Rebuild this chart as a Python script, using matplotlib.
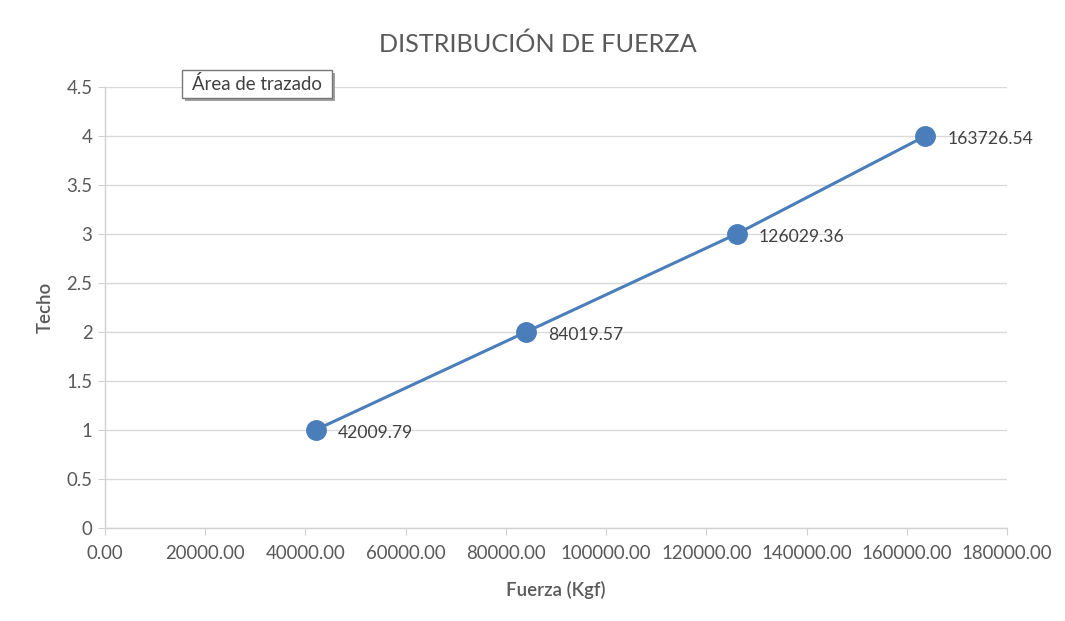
import matplotlib
matplotlib.use("Agg")
import matplotlib.pyplot as plt
from matplotlib.ticker import FormatStrFormatter, MultipleLocator
from matplotlib.patches import FancyBboxPatch

# data
fuerza = [42009.79, 84019.57, 126029.36, 163726.54]
techo = [1, 2, 3, 4]
labels = ["42009.79", "84019.57", "126029.36", "163726.54"]

plt.rcParams['font.family'] = ['Lato', 'DejaVu Sans']

grey = "#595959"
blue = "#4A7EBB"

fig = plt.figure(figsize=(10.65, 6.21), dpi=100)
ax = fig.add_axes([0.0986, 0.1498, 0.8469, 0.7101])

ax.plot(fuerza, techo, color=blue, lw=2.2, marker="o", ms=14,
        markerfacecolor=blue, markeredgecolor=blue, zorder=3)
for x, y, t in zip(fuerza, techo, labels):
    ax.annotate(t, (x, y), xytext=(16, -2), textcoords="offset points",
                va="center", ha="left", fontsize=12.6, color="#404040")

ax.set_xlim(0, 180000)
ax.set_ylim(0, 4.5)
ax.xaxis.set_major_locator(MultipleLocator(20000))
ax.yaxis.set_major_locator(MultipleLocator(0.5))
ax.xaxis.set_major_formatter(FormatStrFormatter("%.2f"))
ax.yaxis.set_major_formatter(plt.FuncFormatter(lambda v, p: f"{v:g}"))

ax.grid(axis="y", color="#D9D9D9", lw=1)
ax.set_axisbelow(True)
for s in ["top", "right"]:
    ax.spines[s].set_visible(False)
for s in ["left", "bottom"]:
    ax.spines[s].set_color("#D0D0D0")
    ax.spines[s].set_linewidth(1)
ax.tick_params(axis="both", colors="#D0D0D0", labelcolor=grey, labelsize=13.4, length=5)
ax.tick_params(axis="x", pad=7)
ax.tick_params(axis="y", pad=4)

ax.set_xlabel("Fuerza (Kgf)", fontsize=13.4, color=grey, fontweight="semibold", labelpad=14)
ax.set_ylabel("Techo", fontsize=13.4, color=grey, fontweight="semibold", labelpad=9)
fig.text(0.505, 0.928, "DISTRIBUCIÓN DE FUERZA", ha="center", va="center",
         fontsize=18.2, color=grey)

# tooltip box "Área de trazado"
shadow = FancyBboxPatch((0.1737, 0.838), 0.1408, 0.045, boxstyle="square,pad=0",
                        transform=fig.transFigure, facecolor="#A0A0A0",
                        edgecolor="none", zorder=4)
box = FancyBboxPatch((0.1709, 0.842), 0.1408, 0.045, boxstyle="square,pad=0",
                     transform=fig.transFigure, facecolor="white",
                     edgecolor="#767676", lw=1, zorder=5)
fig.patches.extend([shadow, box])
fig.text(0.2413, 0.8645, "Área de trazado", ha="center", va="center",
         fontsize=13.4, color="#404040", zorder=6)

fig.savefig("out.png", dpi=100)
